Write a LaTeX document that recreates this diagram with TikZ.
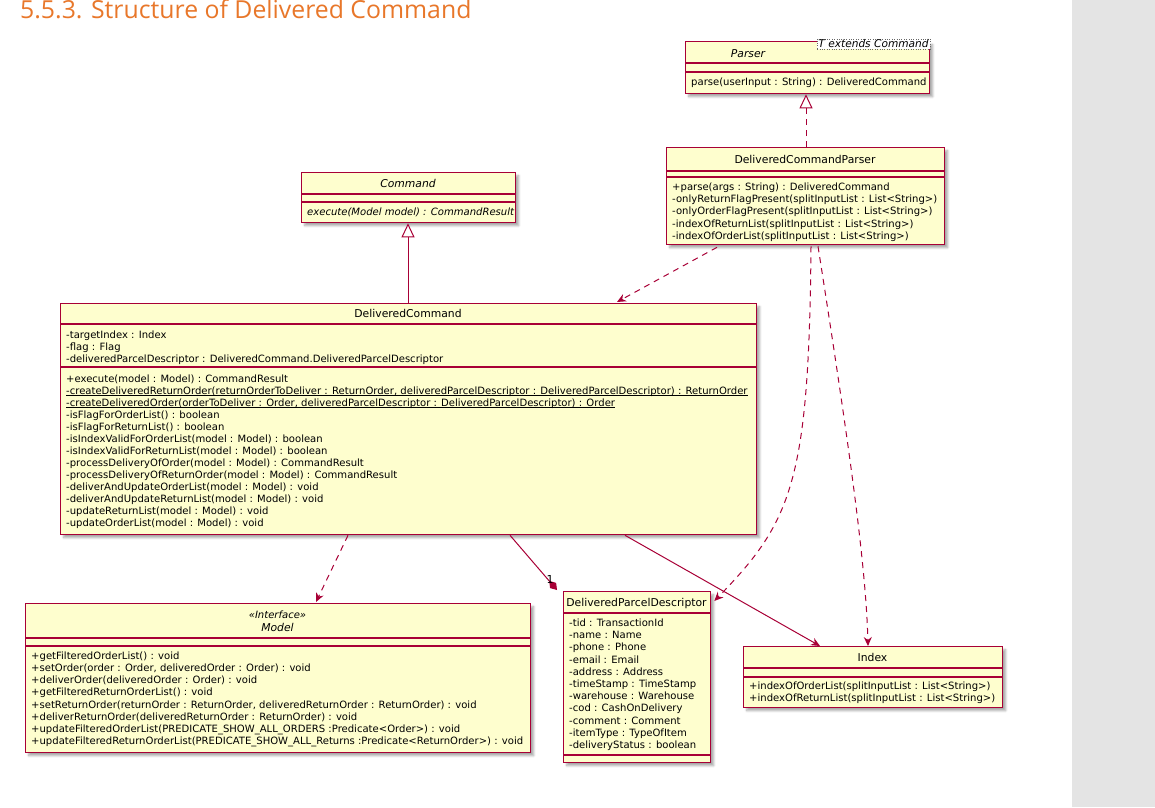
\documentclass[tikz,border=0pt]{standalone}
\usepackage{fontspec}
\setmainfont{DejaVu Sans}
\newfontfamily\titlefont{Open Sans}
\usetikzlibrary{arrows.meta,shadows.blur,calc}
\definecolor{umlborder}{HTML}{A80036}
\definecolor{umlfill}{HTML}{FEFECE}
\definecolor{headorange}{HTML}{E8772A}
\definecolor{sidegray}{HTML}{E4E4E4}
\newcommand\staticline[1]{\setbox0\hbox{#1}\rlap{\rule[-1.4pt]{\wd0}{0.7pt}}\box0}
\begin{document}
\begin{tikzpicture}[x=1pt,y=-1pt,
  classbox/.style={draw=umlborder, fill=umlfill, line width=1.3pt, anchor=north west, inner sep=0pt,
    blur shadow={shadow xshift=3pt, shadow yshift=-3pt, shadow blur steps=6, shadow opacity=35}},
  sepline/.style={draw=umlborder, line width=1.1pt},
  mem/.style={anchor=base west, inner sep=0pt, font=\fontsize{10.05}{12}\selectfont},
  ttl/.style={anchor=base, inner sep=0pt, font=\fontsize{10.8}{14}\selectfont},
  conn/.style={draw=umlborder, line width=1pt},
  depline/.style={conn, dash pattern=on 6pt off 5pt, -{Stealth[length=9pt,width=8pt,inset=3pt]}},
  assocline/.style={conn, -{Stealth[length=9pt,width=8pt,inset=3pt]}},
  genline/.style={conn, -{Triangle[fill=white,length=14pt,width=13pt]}},
  realline/.style={conn, dash pattern=on 6pt off 5pt, -{Triangle[fill=white,length=14pt,width=13pt]}},
  compline/.style={conn, -{Diamond[length=12pt,width=8pt]}}
]
\useasboundingbox (0,0) rectangle (1155,807);
\fill[sidegray] (1072,0) rectangle (1155,807);

\node[anchor=base west, inner sep=0pt, text=headorange, font=\titlefont\fontsize{24.8}{28}\selectfont] (title) at (20,18) {5.5.3. Structure of Delivered Command};

% ---------- Parser ----------
\node[classbox, minimum width=244pt, minimum height=52pt] (parser) at (685,41) {};
\draw[sepline] (685,63) -- (929,63);
\draw[sepline] (685,72) -- (929,72);
\node[ttl, font=\itshape\fontsize{10.8}{14}\selectfont] (parsername) at (748,57) {Parser};
\node[mem] (parserm) at (691,85.5) {parse(userInput : String) : DeliveredCommand};
\node[draw=black!60, dotted, fill=white, anchor=north east, inner sep=1.2pt,
  font=\itshape\fontsize{10.6}{12}\selectfont] (tmpl) at (930,38.5) {T extends Command};

% ---------- DeliveredCommandParser ----------
\node[classbox, minimum width=278pt, minimum height=97pt] (dcp) at (666,147) {};
\draw[sepline] (666,171) -- (944,171);
\draw[sepline] (666,177) -- (944,177);
\node[ttl] (dcpname) at (805,163.3) {DeliveredCommandParser};
\foreach \t [count=\i from 0] in {
  {+parse(args : String) : DeliveredCommand},
  {-onlyReturnFlagPresent(splitInputList : List<String>)},
  {-onlyOrderFlagPresent(splitInputList : List<String>)},
  {-indexOfReturnList(splitInputList : List<String>)},
  {-indexOfOrderList(splitInputList : List<String>)}}
  \node[mem] (dcpm\i) at (672,190.5+12.2*\i) {\t};

% ---------- Command ----------
\node[classbox, minimum width=214pt, minimum height=50pt] (cmd) at (301,172) {};
\draw[sepline] (301,194) -- (515,194);
\draw[sepline] (301,202) -- (515,202);
\node[ttl, font=\itshape\fontsize{10.8}{14}\selectfont] (cmdname) at (408,187.3) {Command};
\node[mem, font=\itshape\fontsize{10.05}{12}\selectfont] (cmdm) at (307,215.5) {execute(Model model) : CommandResult};

% ---------- DeliveredCommand ----------
\node[classbox, minimum width=696pt, minimum height=231pt] (dc) at (60,303) {};
\draw[sepline] (60,324) -- (756,324);
\draw[sepline] (60,367) -- (756,367);
\node[ttl] (dcname) at (408,317.3) {DeliveredCommand};
\foreach \t [count=\i from 0] in {
  {-targetIndex : Index},
  {-flag : Flag},
  {-deliveredParcelDescriptor : DeliveredCommand.DeliveredParcelDescriptor}}
  \node[mem] (dca\i) at (66,338.5+12*\i) {\t};
\foreach \t [count=\i from 0] in {
  {+execute(model : Model) : CommandResult},
  {\staticline{-createDeliveredReturnOrder(returnOrderToDeliver : ReturnOrder, deliveredParcelDescriptor : DeliveredParcelDescriptor) : ReturnOrder}},
  {\staticline{-createDeliveredOrder(orderToDeliver : Order, deliveredParcelDescriptor : DeliveredParcelDescriptor) : Order}},
  {-isFlagForOrderList() : boolean},
  {-isFlagForReturnList() : boolean},
  {-isIndexValidForOrderList(model : Model) : boolean},
  {-isIndexValidForReturnList(model : Model) : boolean},
  {-processDeliveryOfOrder(model : Model) : CommandResult},
  {-processDeliveryOfReturnOrder(model : Model) : CommandResult},
  {-deliverAndUpdateOrderList(model : Model) : void},
  {-deliverAndUpdateReturnList(model : Model) : void},
  {-updateReturnList(model : Model) : void},
  {-updateOrderList(model : Model) : void}}
  \node[mem] (dcm\i) at (66,382.5+12*\i) {\t};

% ---------- Model ----------
\node[classbox, minimum width=505pt, minimum height=149pt] (model) at (25,603) {};
\draw[sepline] (25,638) -- (530,638);
\draw[sepline] (25,646) -- (530,646);
\node[ttl, font=\itshape\fontsize{10.05}{12}\selectfont] (modelst) at (277.5,618.5) {«Interface»};
\node[ttl, font=\itshape\fontsize{10.8}{14}\selectfont] (modelname) at (277.5,631.3) {Model};
\foreach \t [count=\i from 0] in {
  {+getFilteredOrderList() : void},
  {+setOrder(order : Order, deliveredOrder : Order) : void},
  {+deliverOrder(deliveredOrder : Order) : void},
  {+getFilteredReturnOrderList() : void},
  {+setReturnOrder(returnOrder : ReturnOrder, deliveredReturnOrder : ReturnOrder) : void},
  {+deliverReturnOrder(deliveredReturnOrder : ReturnOrder) : void},
  {+updateFilteredOrderList(PREDICATE\_SHOW\_ALL\_ORDERS :Predicate<Order>) : void},
  {+updateFilteredReturnOrderList(PREDICATE\_SHOW\_ALL\_Returns :Predicate<ReturnOrder>) : void}}
  \node[mem] (modelm\i) at (31,659.5+12.15*\i) {\t};

% ---------- DeliveredParcelDescriptor ----------
\node[classbox, minimum width=147pt, minimum height=171pt] (dpd) at (563,591) {};
\draw[sepline] (563,613) -- (710,613);
\draw[sepline] (563,755) -- (710,755);
\node[ttl] (dpdname) at (636.5,606.3) {DeliveredParcelDescriptor};
\foreach \t [count=\i from 0] in {
  {-tid : TransactionId},
  {-name : Name},
  {-phone : Phone},
  {-email : Email},
  {-address : Address},
  {-timeStamp : TimeStamp},
  {-warehouse : Warehouse},
  {-cod : CashOnDelivery},
  {-comment : Comment},
  {-itemType : TypeOfItem},
  {-deliveryStatus : boolean}}
  \node[mem] (dpda\i) at (569,626.5+12.2*\i) {\t};

% ---------- Index ----------
\node[classbox, minimum width=259pt, minimum height=61pt] (idx) at (743,646) {};
\draw[sepline] (743,668) -- (1002,668);
\draw[sepline] (743,677) -- (1002,677);
\node[ttl] (idxname) at (872.5,661.3) {Index};
\node[mem] (idxm0) at (749,689.5) {+indexOfOrderList(splitInputList : List<String>)};
\node[mem] (idxm1) at (749,701.5) {+indexOfReturnList(splitInputList : List<String>)};

% ---------- Connectors ----------
\draw[realline] ($(dcp.north west)+(140,0)$) -- ($(parser.south west)+(121,0)$);
\draw[genline] ($(dc.north west)+(348,0)$) -- ($(cmd.south west)+(107,0)$);
\draw[depline] ($(dcp.south west)+(51,2)$) -- ($(dc.north west)+(557,-1)$);
\draw[depline] ($(dcp.south west)+(145,1)$) .. controls ($(dcp.south west)+(143,236)$) and ($(dcp.south west)+(126,276)$) .. ($(dpd.north east)+(3,10)$);
\draw[depline] ($(dcp.south west)+(152,1)$) .. controls ($(dcp.south west)+(180,180)$) and ($(dcp.south west)+(200,316)$) .. ($(idx.north west)+(125,0)$);
\draw[depline] ($(dc.south west)+(288,0)$) -- ($(model.north west)+(291,-1)$);
\draw[compline] ($(dc.south west)+(450,0)$) -- ($(dpd.north west)+(-6,-1)$);
\node[anchor=base, inner sep=0pt, font=\fontsize{11}{12}\selectfont] (mult) at (550,583) {1};
\draw[assocline] ($(dc.south west)+(565,0)$) -- ($(idx.north west)+(77,0)$);
\end{tikzpicture}
\end{document}
